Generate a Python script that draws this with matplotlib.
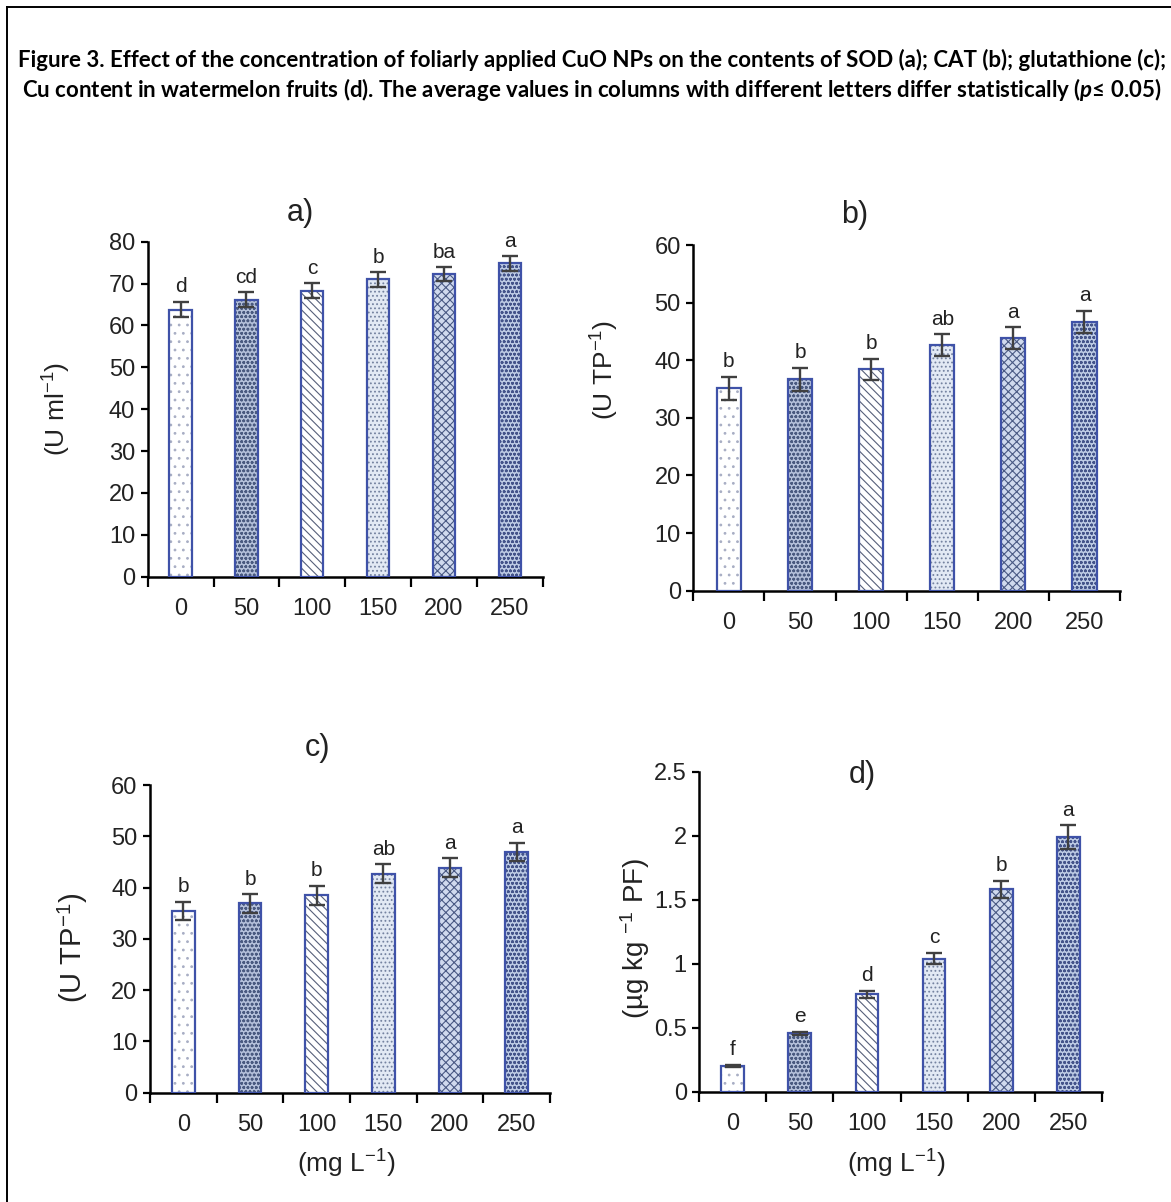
import matplotlib
matplotlib.use("Agg")
import matplotlib.pyplot as plt
from matplotlib.lines import Line2D

plt.rcParams["font.family"] = ["Liberation Sans", "DejaVu Sans"]
plt.rcParams["mathtext.fontset"] = "custom"
plt.rcParams["mathtext.rm"] = "Liberation Sans"
plt.rcParams["mathtext.it"] = "Lato:italic:bold"
plt.rcParams["hatch.linewidth"] = 0.8

# data
doses = ["0", "50", "100", "150", "200", "250"]

sod = [63.8, 66.1, 68.3, 71.0, 72.2, 74.8]
sod_err = [1.8, 1.8, 1.8, 1.7, 1.7, 1.7]
sod_letters = ["d", "cd", "c", "b", "ba", "a"]

cat = [35.1, 36.7, 38.4, 42.6, 43.8, 46.7]
cat_err = [2.0, 2.0, 1.9, 1.9, 1.9, 1.9]
cat_letters = ["b", "b", "b", "ab", "a", "a"]

glu = [35.4, 36.9, 38.5, 42.7, 43.9, 46.9]
glu_err = [1.8, 1.8, 1.9, 1.8, 1.8, 1.8]
glu_letters = ["b", "b", "b", "ab", "a", "a"]

cu = [0.20, 0.455, 0.76, 1.04, 1.58, 1.99]
cu_err = [0.01, 0.015, 0.03, 0.045, 0.07, 0.09]
cu_letters = ["f", "e", "d", "c", "b", "a"]

# bar styles (face, hatch, hatch colour)
styles = [
    ("white", "..", "#a8aec4"),
    ("#b4c0da", "oooo", "#4a5a80"),
    ("white", "\\\\\\\\", "#56607a"),
    ("#e2e9f4", "....", "#7482a0"),
    ("#d0daee", "xxxx", "#4a5a84"),
    ("#bccae4", "oooo", "#44548a"),
]
edge = "#3f52a8"

W, H = 1171, 1202
fig = plt.figure(figsize=(W / 100, H / 100), dpi=100)


def px_axes(x0, x1, ytop, ybot):
    return fig.add_axes([x0 / W, (H - ybot) / H, (x1 - x0) / W, (ybot - ytop) / H])


def panel(ax, vals, errs, letters, ymax, ystep, title, tpos, ylabel, ylpos, ylsize,
          xlabel=None, xly=None, fmt=None):
    x = range(len(vals))
    for i, v in enumerate(vals):
        fc, hatch, hc = styles[i]
        ax.bar(i, v, 0.34, color=fc, edgecolor=hc, hatch=hatch, linewidth=0, zorder=2)
        ax.bar(i, v, 0.34, fill=False, edgecolor=edge, linewidth=1.6, zorder=3)
    ax.errorbar(list(x), vals, yerr=errs, fmt="none", ecolor="#404040",
                elinewidth=1.7, capsize=5.5, capthick=1.7, zorder=4)
    for i, (v, e, l) in enumerate(zip(vals, errs, letters)):
        ax.annotate(l, (i, v + e), xytext=(0, 4), textcoords="offset points",
                    ha="center", va="bottom", fontsize=15, color="#222222")
    ax.set_xlim(-0.5, len(vals) - 0.5)
    ax.set_ylim(0, ymax)
    yt = [k * ystep for k in range(int(round(ymax / ystep)) + 1)]
    ax.set_yticks(yt)
    if fmt:
        ax.set_yticklabels([fmt(t) for t in yt])
    ax.set_xticks([i - 0.5 for i in range(len(vals) + 1)])
    ax.set_xticklabels([])
    ax.set_xticks(list(x), minor=True)
    ax.set_xticklabels(doses, minor=True)
    ax.tick_params(axis="x", which="major", length=7, width=1.6, direction="out")
    ax.tick_params(axis="x", which="minor", length=0, pad=15, labelsize=17, labelcolor="#222222")
    ax.tick_params(axis="y", length=5, width=1.6, direction="out", pad=4,
                   labelsize=17, labelcolor="#222222")
    for s in ["top", "right"]:
        ax.spines[s].set_visible(False)
    for s in ["left", "bottom"]:
        ax.spines[s].set_linewidth(1.8)
    ax.text(tpos[0], tpos[1], title, transform=ax.transAxes, ha="center", va="center",
            fontsize=22, color="#222222")
    ax.set_ylabel(ylabel, fontsize=ylsize, color="#222222")
    ax.yaxis.set_label_coords(*ylpos)
    if xlabel:
        ax.set_xlabel(xlabel, fontsize=19, color="#222222")
        ax.xaxis.set_label_coords(0.49, xly)


ax_a = px_axes(147.7, 542.7, 241.7, 576.7)
panel(ax_a, sod, sod_err, sod_letters, 80, 10, "a)", (0.386, 1.086),
      "(U ml$^{-1}$)", (-0.19, 0.5), 19)

ax_b = px_axes(693.3, 1120, 245, 590.7)
panel(ax_b, cat, cat_err, cat_letters, 60, 10, "b)", (0.379, 1.087),
      "(U TP$^{-1}$)", (-0.17, 0.64), 19)

ax_c = px_axes(150, 550, 785, 1092.7)
panel(ax_c, glu, glu_err, glu_letters, 60, 10, "c)", (0.42, 1.12),
      "(U TP$^{-1}$)", (-0.15, 0.47), 21, xlabel="(mg L$^{-1}$)", xly=-0.18)

ax_d = px_axes(699.3, 1101.7, 771.7, 1091.7)
panel(ax_d, cu, cu_err, cu_letters, 2.5, 0.5, "d)", (0.404, 0.99),
      "(µg kg $^{-1}$ PF)", (-0.118, 0.48), 20, xlabel="(mg L$^{-1}$)", xly=-0.175,
      fmt=lambda t: "0" if t == 0 else ("%g" % t))

title = ("Figure 3. Effect of the concentration of foliarly applied CuO NPs on the contents of SOD (a); CAT (b); glutathione (c);\n"
         "Cu content in watermelon fruits (d). The average values in columns with different letters differ statistically ($p$≤ 0.05)")
fig.text(592 / W, 1 - 76 / H, title, ha="center", va="center", fontsize=16,
         fontweight="bold", family=["Lato", "DejaVu Sans"], linespacing=1.25)

# frame lines
fig.add_artist(Line2D([7 / W, 7 / W], [0, 1 - 7 / H], color="black", lw=1.4))
fig.add_artist(Line2D([7 / W, 1], [1 - 7 / H, 1 - 7 / H], color="black", lw=1.4))

fig.savefig("out.png", dpi=100, facecolor="white")
